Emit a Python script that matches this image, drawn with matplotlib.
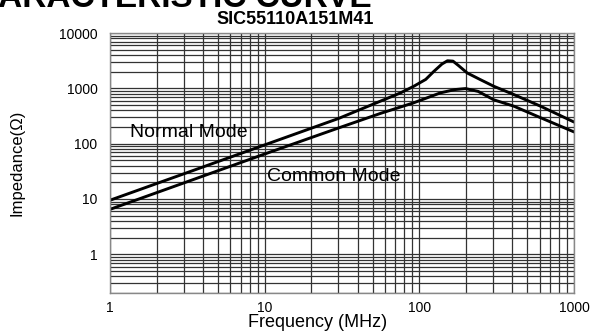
import matplotlib
matplotlib.use("Agg")
import matplotlib.pyplot as plt
from matplotlib.ticker import LogLocator, FixedLocator, NullFormatter

plt.rcParams['font.family'] = ['Liberation Sans', 'DejaVu Sans']

# values (frequency in MHz, impedance in ohm)
normal_freq = [1, 3, 10, 30, 56, 75, 92, 110, 124, 140, 152, 165, 180, 204, 250, 303, 408, 607, 1000]
normal_imp = [9.5, 28.5, 95, 285, 586, 820, 1089, 1450, 2020, 2750, 3150, 3100, 2550, 1893, 1420, 1089, 772, 476, 246]

common_freq = [1, 3, 10, 30, 56, 92, 137, 170, 199, 240, 303, 408, 607, 1000]
common_imp = [6.5, 19.5, 65, 192, 352, 548, 829, 950, 990, 880, 620, 476, 295, 163]

x_ticks = [1, 10, 100, 1000]
x_labels = ['1', '10', '100', '1000']
y_ticks = [1, 10, 100, 1000, 10000]
y_labels = ['1', '10', '100', '1000', '10000']

fig = plt.figure(figsize=(5.93, 3.31), dpi=100)
ax = fig.add_axes([0.1855, 0.1148, 0.7825, 0.7855])

ax.plot(normal_freq, normal_imp, color='black', lw=2.1, solid_capstyle='round')
ax.plot(common_freq, common_imp, color='black', lw=2.1, solid_capstyle='round')

ax.set_xscale('log')
ax.set_yscale('log')
ax.set_xlim(1, 1000)
ax.set_ylim(0.2, 10000)

ax.xaxis.set_major_locator(FixedLocator(x_ticks))
ax.set_xticklabels(x_labels)
ax.yaxis.set_major_locator(FixedLocator(y_ticks))
ax.set_yticklabels(y_labels)
ax.xaxis.set_minor_locator(LogLocator(base=10, subs=range(2, 10)))
ax.yaxis.set_minor_locator(LogLocator(base=10, subs=range(2, 10)))
ax.xaxis.set_minor_formatter(NullFormatter())
ax.yaxis.set_minor_formatter(NullFormatter())

ax.grid(True, which='both', color='#333333', lw=0.9)
ax.tick_params(which='both', length=0, labelsize=10)
ax.tick_params(axis='x', pad=6)
ax.tick_params(axis='y', pad=9)
for s in ax.spines.values():
    s.set_color('#888888')
    s.set_linewidth(1.0)

ax.text(1.35, 161, 'Normal Mode', fontsize=14, va='center', ha='left')
ax.text(10.4, 26, 'Common Mode', fontsize=14, va='center', ha='left')

ax.set_xlabel('Frequency (MHz)', fontsize=13)
ax.xaxis.set_label_coords(0.448, -0.082)
ax.set_ylabel('Impedance(Ω)', fontsize=12)
ax.yaxis.set_label_coords(-0.185, 0.5)

fig.text(295 / 593, 1 - 20 / 331, 'SIC55110A151M41', fontsize=13, weight='bold',
         ha='center', va='center')
# big heading that is cut off at the top of the image
fig.text(372 / 593, 1 - 7 / 331, 'CHARACTERISTIC CURVE', fontsize=24, weight='bold',
         ha='right', va='baseline')

fig.savefig('out.png', dpi=100)
